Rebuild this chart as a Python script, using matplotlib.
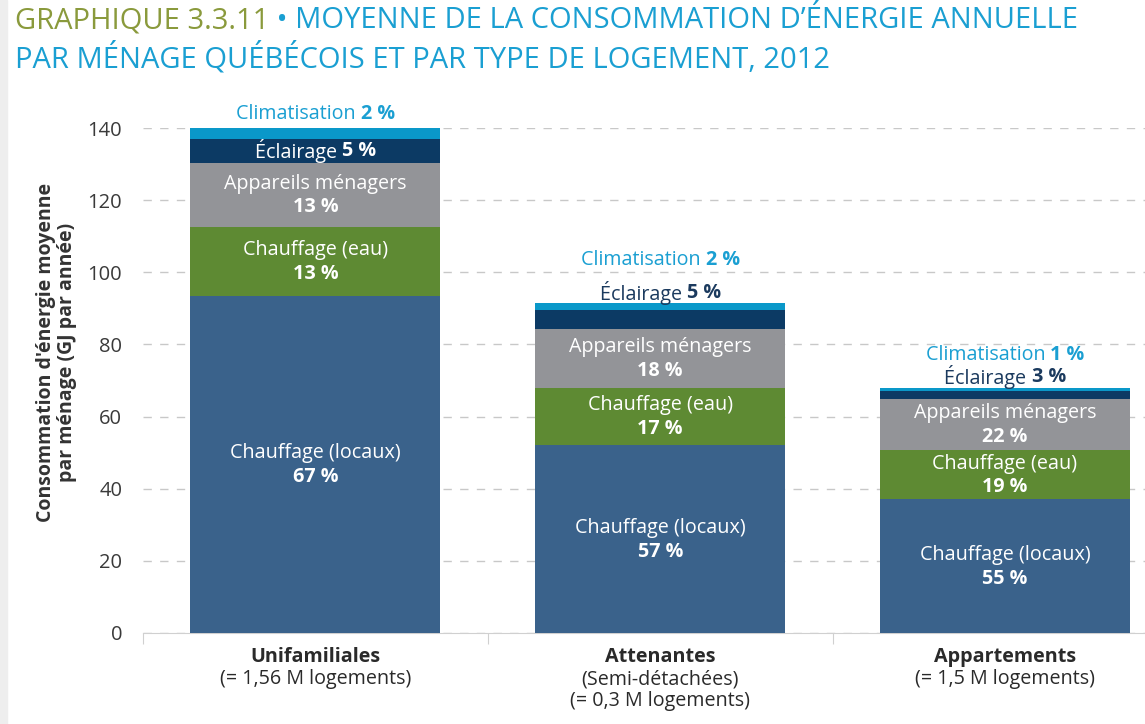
import matplotlib.pyplot as plt
from matplotlib.patches import Rectangle
import matplotlib.transforms as mtransforms

plt.rcParams['font.family'] = ['Open Sans', 'DejaVu Sans']

# data (GJ per household per year)
categories = ['Unifamiliales', 'Attenantes', 'Appartements']
subtitles = [['(= 1,56 M logements)'],
             ['(Semi-détachées)', '(= 0,3 M logements)'],
             ['(= 1,5 M logements)']]
uses = ['Chauffage (locaux)', 'Chauffage (eau)', 'Appareils ménagers', 'Éclairage', 'Climatisation']
locaux = [93.5, 52.1, 37.1]
eau = [19.1, 15.8, 13.6]
appareils = [17.7, 16.4, 14.2]
eclairage = [6.7, 5.2, 2.2]
clim = [3.0, 2.0, 0.7]
pct_locaux = ['67 %', '57 %', '55 %']
pct_eau = ['13 %', '17 %', '19 %']
pct_appareils = ['13 %', '18 %', '22 %']
pct_eclairage = ['5 %', '5 %', '3 %']
pct_clim = ['2 %', '2 %', '1 %']

colors = ['#3a628b', '#5e8a33', '#939498', '#0c3a64', '#0a98c9']
cyan = '#1a9fd2'
navy = '#1b3a5e'
FS = 14.2

fig = plt.figure(figsize=(11.45, 7.24), dpi=100)
fig.patches.append(Rectangle((0, 0), 0.006, 1, transform=fig.transFigure,
                             color='#eeeeee', zorder=0))
ax = fig.add_axes([143 / 1145, 1 - 633 / 724, 1 - 143 / 1145, (633 - 128) / 724])

x = range(len(categories))
series = [locaux, eau, appareils, eclairage, clim]
pcts = [pct_locaux, pct_eau, pct_appareils, pct_eclairage, pct_clim]
bottoms = [0, 0, 0]
for vals, c in zip(series, colors):
    ax.bar(x, vals, bottom=bottoms, width=0.725, color=c, zorder=3)
    bottoms = [b + v for b, v in zip(bottoms, vals)]

ax.set_xlim(-0.5, 2.406)
ax.set_ylim(0, 140)
ax.set_yticks(range(0, 141, 20))
ax.tick_params(axis='y', length=0, pad=15, labelsize=14.5, labelcolor='#3a3a3a')
ax.yaxis.grid(True, linestyle=(0, (6, 6)), color='#c8c8c8', linewidth=1, zorder=0)
for s in ['top', 'right', 'left']:
    ax.spines[s].set_visible(False)
ax.spines['bottom'].set_color('#d0d0d0')
ax.set_xticks([-0.5, 0.5, 1.5])
ax.set_xticklabels([])
ax.tick_params(axis='x', length=8, color='#d0d0d0')

ax.set_ylabel("Consommation d'énergie moyenne\npar ménage (GJ par année)",
              fontsize=14, fontweight='bold', color='#333333', linespacing=1.05)
ax.yaxis.set_label_coords(-0.066, 0.555)

# segment labels inside the bars
for i in x:
    base = 0
    for k, (vals, pl) in enumerate(zip(series, pcts)):
        mid = base + vals[i] / 2
        top = base + vals[i]
        base = top
        if k <= 2:
            ax.annotate(uses[k], (i, mid), xytext=(0, 8), textcoords='offset points',
                        ha='center', va='center', color='white', fontsize=FS, zorder=5)
            ax.annotate(pl[i], (i, mid), xytext=(0, -9), textcoords='offset points',
                        ha='center', va='center', color='white', fontsize=FS,
                        fontweight='bold', zorder=5)

# top labels (éclairage / climatisation)
def two_part(xp, yp, dy, name, pct, color):
    t1 = ax.annotate(name + ' ', (xp, yp), xytext=(0, dy), textcoords='offset points',
                     ha='right', va='center', color=color, fontsize=FS, zorder=5,
                     annotation_clip=False)
    t2 = ax.annotate(pct, (xp, yp), xytext=(0, dy), textcoords='offset points',
                     ha='left', va='center', color=color, fontsize=FS,
                     fontweight='bold', zorder=5, annotation_clip=False)
    return t1, t2

labels = []
totals = bottoms
# Unifamiliales: éclairage inside, climatisation above
ecl_mid = locaux[0] + eau[0] + appareils[0] + eclairage[0] / 2
labels.append(two_part(0, ecl_mid, 0, 'Éclairage', pct_eclairage[0], 'white'))
labels.append(two_part(0, totals[0], 10, 'Climatisation', pct_clim[0], cyan))
# Attenantes
labels.append(two_part(1, totals[1], 7, 'Éclairage', pct_eclairage[1], navy))
labels.append(two_part(1, totals[1], 31, 'Climatisation', pct_clim[1], cyan))
# Appartements
labels.append(two_part(2, totals[2], 8, 'Éclairage', pct_eclairage[2], navy))
labels.append(two_part(2, totals[2], 24, 'Climatisation', pct_clim[2], cyan))

# centre each two-part label on its bar
fig.canvas.draw()
r = fig.canvas.get_renderer()
for t1, t2 in labels:
    w1 = t1.get_window_extent(r).width
    w2 = t2.get_window_extent(r).width
    shift = (w1 - w2) / 2 * 72 / fig.dpi
    for t in (t1, t2):
        ox, oy = t.xyann
        t.xyann = (ox + shift, oy)

# category labels
trans = mtransforms.blended_transform_factory(ax.transData, fig.transFigure)
for i, cat in enumerate(categories):
    ax.text(i, 1 - 657 / 724, cat, transform=trans, ha='center', va='center',
            fontsize=FS, fontweight='bold', color='#2a2a2a')
    for j, s in enumerate(subtitles[i]):
        ax.text(i, 1 - (679 + 22 * j) / 724, s, transform=trans, ha='center',
                va='center', fontsize=FS, color='#2a2a2a')

# title
TS = 21
t1 = fig.text(15 / 1145, 1 - 21 / 724, 'GRAPHIQUE 3.3.11', ha='left', va='center',
              fontsize=TS, color='#8a9a3c')
fig.canvas.draw()
x1 = t1.get_window_extent(r).x1 / fig.bbox.width
fig.text(x1, 1 - 21 / 724, ' • MOYENNE DE LA CONSOMMATION D\u2019ÉNERGIE ANNUELLE',
         ha='left', va='center', fontsize=TS, color=cyan)
fig.text(15 / 1145, 1 - 58 / 724, 'PAR MÉNAGE QUÉBÉCOIS ET PAR TYPE DE LOGEMENT, 2012',
         ha='left', va='center', fontsize=TS, color=cyan)

fig.savefig('out.png', dpi=100)
